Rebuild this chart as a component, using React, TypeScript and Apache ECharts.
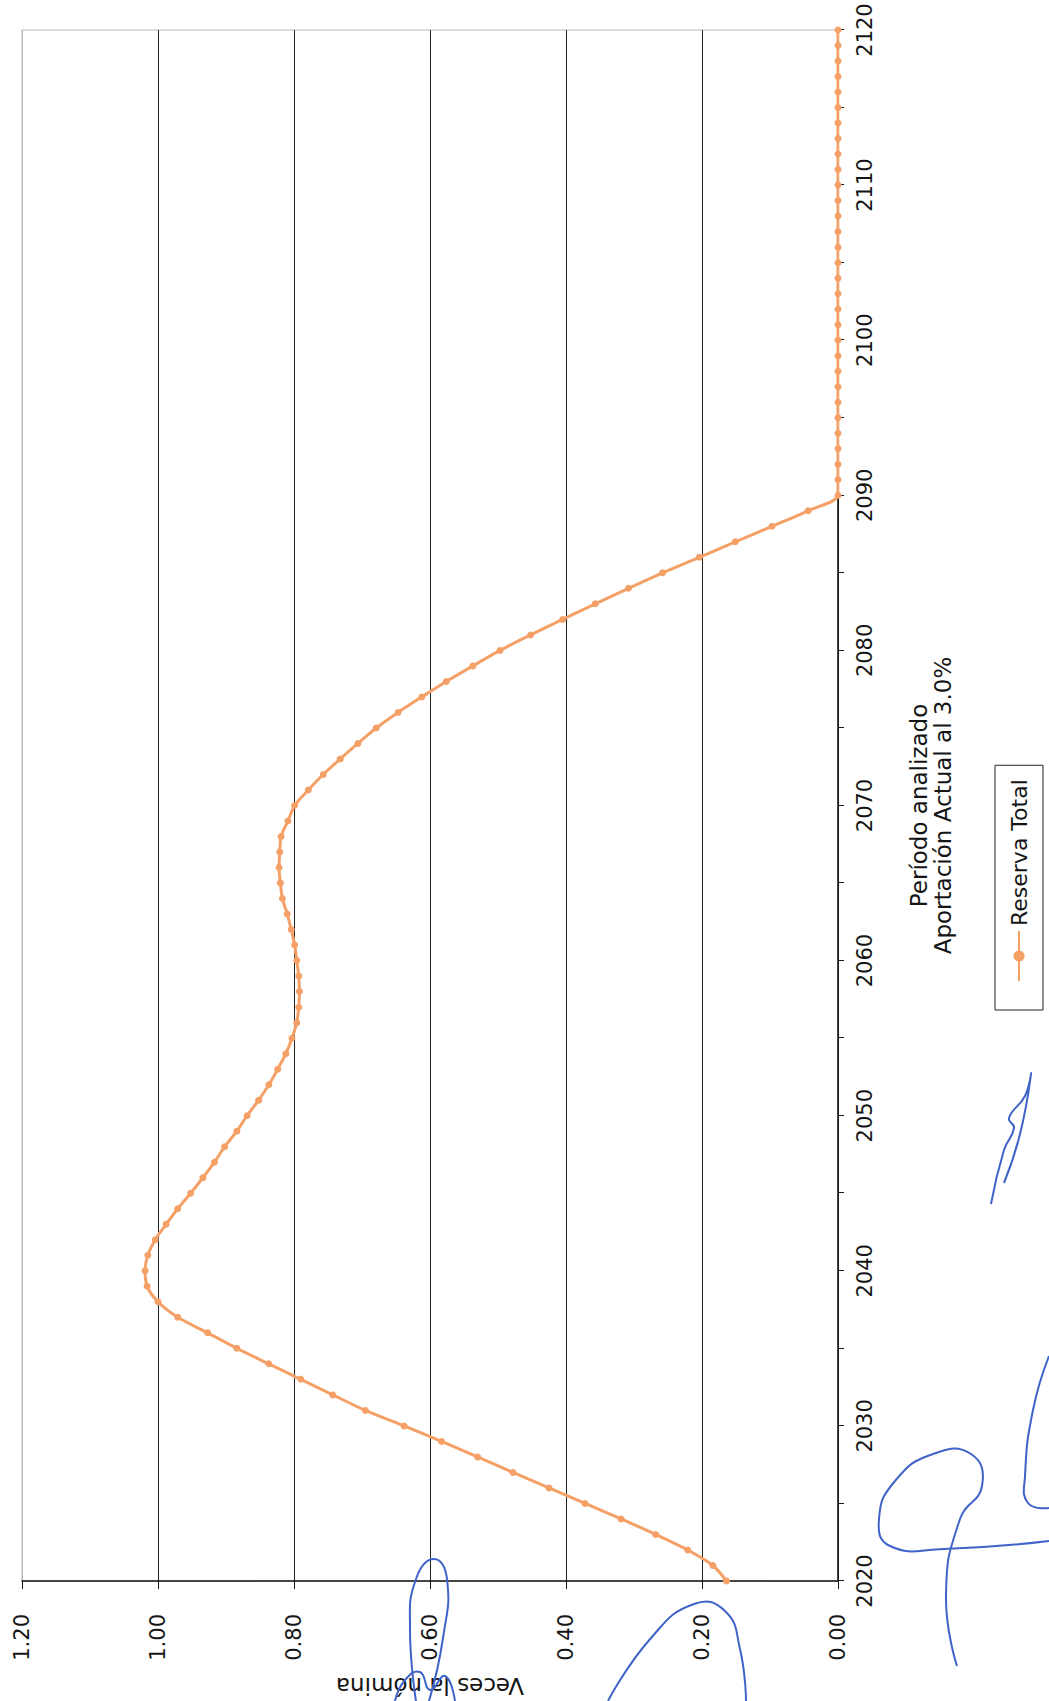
import React, { useEffect, useRef } from "react";
import * as echarts from "echarts";

// ---- Data ----
const startYear = 2020;
const endYear = 2120;
const seriesName = "Reserva Total";
const xAxisTitle = "Período analizado\nAportación Actual al 3.0%";
const yAxisTitle = "Veces la nómina";

// One value per year, 2020 .. 2120
const reservaTotal: number[] = [
  0.164, 0.184, 0.221, 0.268, 0.319, 0.372, 0.425, 0.478, 0.53, 0.583, // 2020-2029
  0.638, 0.695, 0.743, 0.79, 0.837, 0.884, 0.927, 0.971, 1.0, 1.016, // 2030-2039
  1.019, 1.015, 1.004, 0.988, 0.971, 0.952, 0.934, 0.917, 0.902, 0.884, // 2040-2049
  0.869, 0.852, 0.837, 0.824, 0.812, 0.803, 0.796, 0.793, 0.792, 0.793, // 2050-2059
  0.796, 0.799, 0.804, 0.81, 0.817, 0.82, 0.822, 0.821, 0.819, 0.809, // 2060-2069
  0.799, 0.779, 0.757, 0.732, 0.706, 0.679, 0.647, 0.612, 0.576, 0.537, // 2070-2079
  0.497, 0.452, 0.405, 0.357, 0.308, 0.258, 0.204, 0.151, 0.097, 0.044, // 2080-2089
  0, 0, 0, 0, 0, 0, 0, 0, 0, 0, // 2090-2099
  0, 0, 0, 0, 0, 0, 0, 0, 0, 0, // 2100-2109
  0, 0, 0, 0, 0, 0, 0, 0, 0, 0, // 2110-2119
  0, // 2120
];

const valueMin = 0;
const valueMax = 1.2;
const valueStep = 0.2;
const yearTickStep = 5;
const yearLabelStep = 10;

const ORANGE = "#F4A067";
const FONT = "DejaVu Sans";
const INK = "#151515";
const PEN = "#3f63c9";

// Page is 1049 x 1701; the chart is drawn on a 1701 x 1049 canvas rotated 90deg counter-clockwise
const PAGE_W = 1049;
const PAGE_H = 1701;

// Hand-written pen strokes on the scanned page (page coordinates, decoration only)
const penStrokes: number[][][] = [
  [[416, 1701], [410, 1628], [416, 1579], [434, 1559], [447, 1579], [443, 1638], [429, 1701]],
  [[395, 1701], [405, 1680], [420, 1672], [430, 1690], [445, 1676], [455, 1701]],
  [[608, 1701], [651, 1638], [694, 1604], [725, 1611], [740, 1649], [746, 1701]],
  [[957, 1666], [946, 1595], [960, 1519], [982, 1486], [971, 1454], [933, 1454], [895, 1481], [879, 1519], [890, 1546], [944, 1549], [1049, 1541]],
  [[1049, 1356], [1033, 1410], [1025, 1476], [1028, 1503], [1049, 1508]],
  [[991, 1204], [1004, 1150], [1014, 1128], [1009, 1118], [1025, 1096], [1031, 1074], [1020, 1134], [1004, 1183]],
];

export default function App() {
  const ref = useRef<HTMLDivElement>(null);

  useEffect(() => {
    if (!ref.current) return;
    const chart = echarts.init(ref.current, null, {
      renderer: "svg",
      width: PAGE_H,
      height: PAGE_W,
    });

    const data = reservaTotal.map((v, i) => [startYear + i, v]);
    // page (x, y) -> rotated canvas (x', y')
    const toCanvas = (p: number[]) => [PAGE_H - p[1], p[0]];

    const option: any = {
      animation: false,
      backgroundColor: "#ffffff",
      textStyle: { fontFamily: FONT },
      grid: {
        left: 120,
        right: 30,
        top: 22,
        bottom: 211,
        show: true,
        borderColor: "#b8b8b8",
        borderWidth: 1,
        containLabel: false,
        outerBoundsMode: "none",
      },
      legend: {
        left: 691,
        top: 995,
        orient: "horizontal",
        data: [seriesName],
        borderColor: "#222",
        borderWidth: 1,
        padding: [13, 14, 13, 28],
        itemWidth: 50,
        itemHeight: 14,
        itemGap: 0,
        textStyle: { fontSize: 22, color: INK, fontFamily: FONT },
      },
      xAxis: {
        type: "value",
        min: startYear,
        max: endYear,
        interval: yearTickStep,
        name: xAxisTitle,
        nameLocation: "middle",
        nameGap: 69,
        nameTextStyle: { fontSize: 23, color: INK, lineHeight: 24, fontFamily: FONT },
        axisLine: { show: true, lineStyle: { color: INK, width: 1.5 } },
        axisTick: { show: true, inside: false, length: 6, lineStyle: { color: INK } },
        axisLabel: {
          margin: 16,
          fontSize: 21,
          color: INK,
          fontFamily: FONT,
          formatter: (v: number) => (Math.round(v) % yearLabelStep === 0 ? String(Math.round(v)) : ""),
        },
        splitLine: { show: false },
      },
      yAxis: {
        type: "value",
        min: valueMin,
        max: valueMax,
        interval: valueStep,
        name: yAxisTitle,
        nameLocation: "middle",
        nameRotate: 90,
        nameGap: 93,
        nameTextStyle: { fontSize: 23, color: INK, fontFamily: FONT },
        axisLine: { show: true, lineStyle: { color: INK, width: 1.5 } },
        axisTick: { show: true, inside: false, length: 8, lineStyle: { color: INK } },
        axisLabel: {
          margin: 33,
          fontSize: 21,
          color: INK,
          fontFamily: FONT,
          formatter: (v: number) => v.toFixed(2),
        },
        splitLine: {
          show: true,
          lineStyle: {
            color: ["#222", "#222", "#222", "#222", "#222", "#222", "#b8b8b8"],
            width: 1,
          },
        },
      },
      graphic: penStrokes.map((stroke) => ({
        type: "polyline",
        silent: true,
        z: 100,
        shape: { points: stroke.map(toCanvas), smooth: 0.5 },
        style: { stroke: PEN, lineWidth: 2, fill: "none" },
      })),
      series: [
        {
          type: "line",
          name: seriesName,
          data,
          smooth: 0.3,
          symbol: "circle",
          symbolSize: 7,
          showSymbol: true,
          lineStyle: { color: ORANGE, width: 3 },
          itemStyle: { color: ORANGE },
        },
      ],
    };

    chart.setOption(option);
    return () => {
      chart.dispose();
    };
  }, []);

  return (
    <div
      style={{
        position: "absolute",
        left: 0,
        top: 0,
        width: PAGE_W,
        height: PAGE_H,
        overflow: "hidden",
        background: "#ffffff",
      }}
    >
      <div
        ref={ref}
        style={{
          position: "absolute",
          left: 0,
          top: 0,
          width: PAGE_H,
          height: PAGE_W,
          transformOrigin: "0 0",
          transform: `translate(0px, ${PAGE_H}px) rotate(-90deg)`,
        }}
      />
    </div>
  );
}
